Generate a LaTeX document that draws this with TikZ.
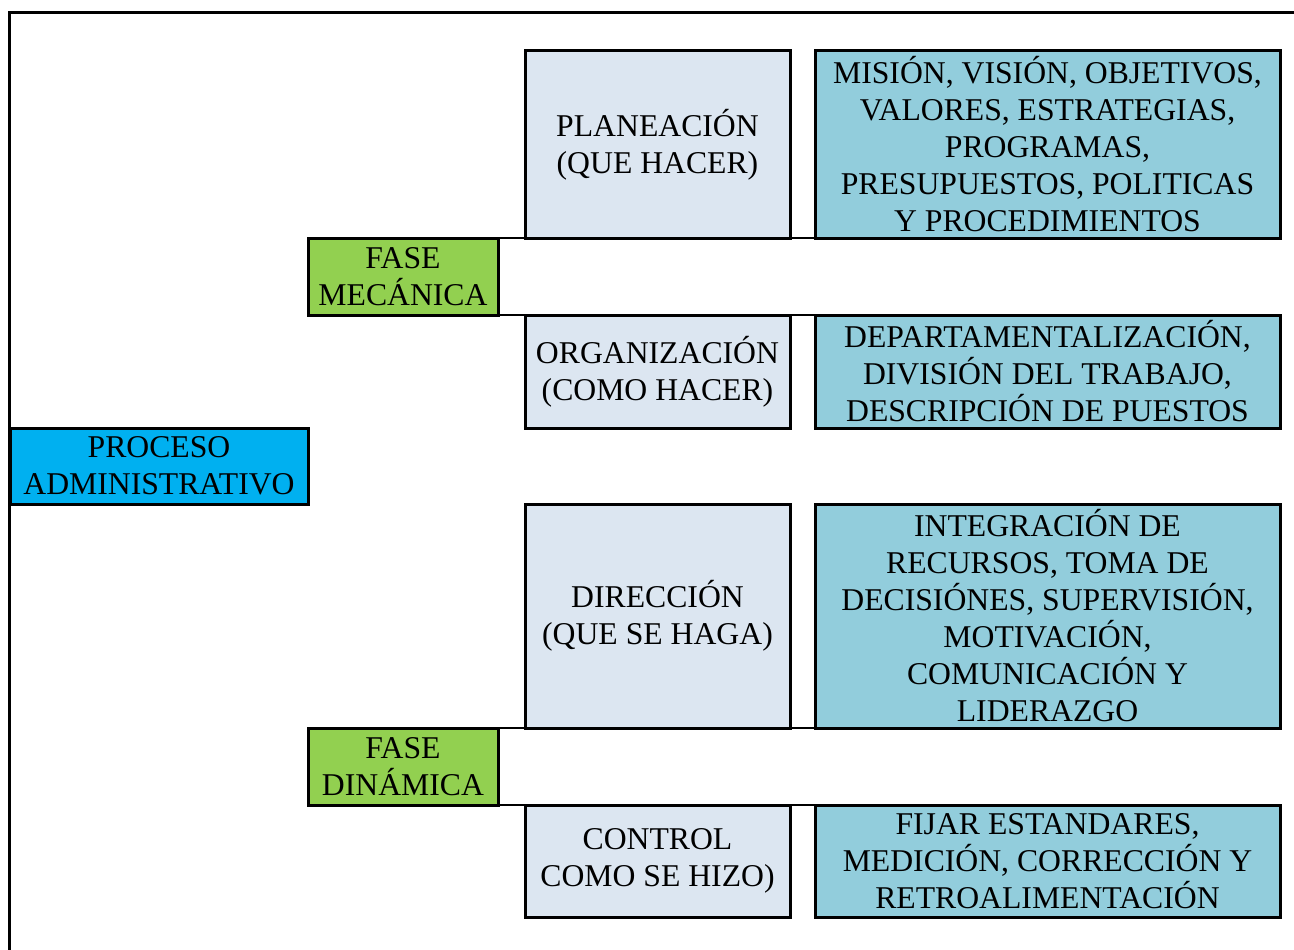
\documentclass[tikz,border=0pt]{standalone}
\usepackage{fontspec}
\setmainfont{Liberation Serif}
\definecolor{procblue}{HTML}{00B0F0}
\definecolor{phasegreen}{HTML}{92D050}
\definecolor{steppale}{HTML}{DCE6F1}
\definecolor{detailteal}{HTML}{92CDDC}
\begin{document}
\begin{tikzpicture}[x=1pt,y=-1pt,
  box/.style={draw=black, line width=3pt, inner sep=0pt, outer sep=0pt,
    align=center, font=\fontsize{31.7}{37}\selectfont},
  procbox/.style={box, fill=procblue, minimum width=298, minimum height=76},
  phasebox/.style={box, fill=phasegreen, minimum width=190, minimum height=77},
  stepbox/.style={box, fill=steppale, minimum width=265},
  detailbox/.style={box, fill=detailteal, minimum width=465},
  link/.style={draw=black, line width=2pt},
  frameline/.style={draw=black, line width=3.2pt}]
\useasboundingbox (0,0) rectangle (1294,950);
\clip (0,0) rectangle (1294,950);

% open outer frame: top and left sides
\draw[frameline] (9.5,950) -- (9.5,12.5) -- (1294,12.5);

% root
\node[procbox] (proc) at (159,466) {PROCESO\\ADMINISTRATIVO};

% phases
\node[phasebox] (mec) at (403,276.5) {FASE\\MECÁNICA};
\node[phasebox] (din) at (403,766.5) {FASE\\DINÁMICA};

% stages
\node[stepbox, minimum height=187] (plan) at (657.5,144.5) {PLANEACIÓN\\(QUE HACER)};
\node[stepbox, minimum height=113] (org)  at (657.5,371.5) {ORGANIZACIÓN\\(COMO HACER)};
\node[stepbox, minimum height=224] (dir)  at (657.5,616)   {DIRECCIÓN\\(QUE SE HAGA)};
\node[stepbox, minimum height=112] (ctrl) at (657.5,861)   {CONTROL\\COMO SE HIZO)};

% details of each stage
\node[detailbox, minimum height=187] (mis) at (1047.5,144.5)
  {MISIÓN, VISIÓN, OBJETIVOS,\\VALORES, ESTRATEGIAS,\\PROGRAMAS,\\PRESUPUESTOS, POLITICAS\\Y PROCEDIMIENTOS};
\node[detailbox, minimum height=113] (dep) at (1047.5,371.5)
  {DEPARTAMENTALIZACIÓN,\\DIVISIÓN DEL TRABAJO,\\DESCRIPCIÓN DE PUESTOS};
\node[detailbox, minimum height=224] (int) at (1047.5,616)
  {INTEGRACIÓN DE\\RECURSOS, TOMA DE\\DECISIÓNES, SUPERVISIÓN,\\MOTIVACIÓN,\\COMUNICACIÓN Y\\LIDERAZGO};
\node[detailbox, minimum height=112] (fij) at (1047.5,861)
  {FIJAR ESTANDARES,\\MEDICIÓN, CORRECCIÓN Y\\RETROALIMENTACIÓN};

% phase-to-stage links
\draw[link] (mec.north east) -- (plan.south west);
\draw[link] (mec.south east) -- (org.north west);
\draw[link] (din.north east) -- (dir.south west);
\draw[link] (din.south east) -- (ctrl.north west);

% stage-to-detail links
\draw[link] (plan.south east) -- (mis.south west);
\draw[link] (org.north east) -- (dep.north west);
\draw[link] (dir.south east) -- (int.south west);
\draw[link] (ctrl.north east) -- (fij.north west);
\end{tikzpicture}
\end{document}
